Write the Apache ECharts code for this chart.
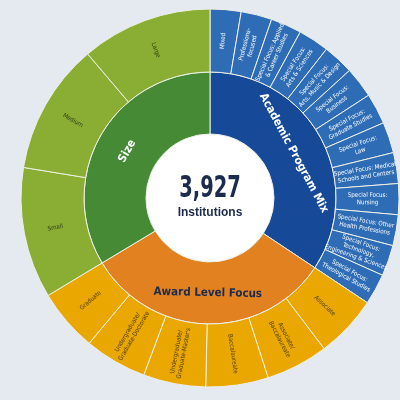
<!DOCTYPE html>
<html>
<head>
<meta charset="utf-8">
<script src="https://cdn.jsdelivr.net/npm/echarts@6/dist/echarts.min.js"></script>
<style>
    html, body { margin: 0; padding: 0; background: #e5eaf1; }
    #chart { width: 400px; height: 400px; }
</style>
</head>
<body>
<div id="chart"></div>
<script>
// inner ring: the three classifications, clockwise from 12 o'clock
const groups = ['Academic Program Mix', 'Award Level Focus', 'Size'];

// outer ring, clockwise inside each group
const academicNames = [
    'Mixed',
    'Professions-\nfocused',
    'Special Focus: Applied\n& Career Studies',
    'Special Focus:\nArts & Sciences',
    'Special Focus:\nArts, Music & Design',
    'Special Focus:\nBusiness',
    'Special Focus:\nGraduate Studies',
    'Special Focus:\nLaw',
    'Special Focus: Medical\nSchools and Centers',
    'Special Focus:\nNursing',
    'Special Focus: Other\nHealth Professions',
    'Special Focus:\nTechnology,\nEngineering & Sciences',
    'Special Focus:\nTheological Studies'
];
const academicValues = [9.5, 9.5, 9.5, 9.5, 9.5, 9.5, 9.5, 9.5, 9.5, 9.5, 9.5, 9.5, 9.5];

const awardNames = [
    'Associate',
    'Associate/\nBaccalaureate',
    'Baccalaureate',
    'Undergraduate/\nGraduate-Master\'s',
    'Undergraduate/\nGraduate-Doctorate',
    'Graduate'
];
const awardValues = [19.2, 19.2, 19.2, 19.2, 19.2, 19.2];

const sizeNames = ['Small', 'Medium', 'Large'];
const sizeValues = [40.3, 40.3, 40.3];

const totalLabel = '3,927';
const totalSub = 'Institutions';

// colours: [inner, outer, inner text, outer text]
const palette = {
    'Academic Program Mix': ['#164a98', '#2e6db5', '#ffffff', '#ffffff'],
    'Award Level Focus': ['#e2811f', '#eaa700', '#1c2b4d', '#4a3a0c'],
    'Size': ['#468a36', '#89ae33', '#ffffff', '#2f3d18']
};

const narrow = "'Liberation Sans Narrow', 'DejaVu Sans Condensed', 'Liberation Sans', sans-serif";

function leaves(group, names, values) {
    let c = palette[group];
    return names.map(function (n, i) {
        return {
            name: n,
            value: values[i],
            itemStyle: { color: c[1] },
            label: { color: c[3] }
        };
    });
}

const children = [
    leaves(groups[0], academicNames, academicValues),
    leaves(groups[1], awardNames, awardValues),
    leaves(groups[2], sizeNames, sizeValues)
];

const data = groups.map(function (g, i) {
    return {
        name: g,
        itemStyle: { color: palette[g][0] },
        label: { color: palette[g][2] },
        children: children[i]
    };
});

const chart = echarts.init(document.getElementById('chart'));
chart.setOption({
    backgroundColor: '#e5eaf1',
    animation: false,
    graphic: [
        {
            type: 'circle',
            shape: { cx: 210, cy: 198, r: 64 },
            style: { fill: '#ffffff' }
        },
        {
            type: 'text',
            x: 210, y: 189,
            scaleX: 0.72,
            style: {
                text: totalLabel,
                font: 'bold 30px ' + narrow,
                fill: '#1c2b4d',
                textAlign: 'center',
                textVerticalAlign: 'middle'
            }
        },
        {
            type: 'text',
            x: 210, y: 213,
            style: {
                text: totalSub,
                font: 'bold 12px "Liberation Sans", Arial, sans-serif',
                fill: '#1c2b4d',
                textAlign: 'center',
                textVerticalAlign: 'middle'
            }
        }
    ],
    series: [{
        type: 'sunburst',
        center: [210, 198],
        sort: null,
        startAngle: 90,
        nodeClick: false,
        emphasis: { disabled: true },
        itemStyle: { borderColor: '#eef0e6', borderWidth: 1 },
        data: data,
        levels: [
            {},
            {
                r0: 64,
                r: 126,
                label: {
                    rotate: 'tangential',
                    fontFamily: narrow,
                    fontWeight: 'bold',
                    fontSize: 11.5
                }
            },
            {
                r0: 126,
                r: 189,
                label: {
                    rotate: 'radial',
                    align: 'center',
                    fontFamily: narrow,
                    fontSize: 6.2,
                    lineHeight: 7.5
                }
            }
        ]
    }]
});
</script>
</body>
</html>
